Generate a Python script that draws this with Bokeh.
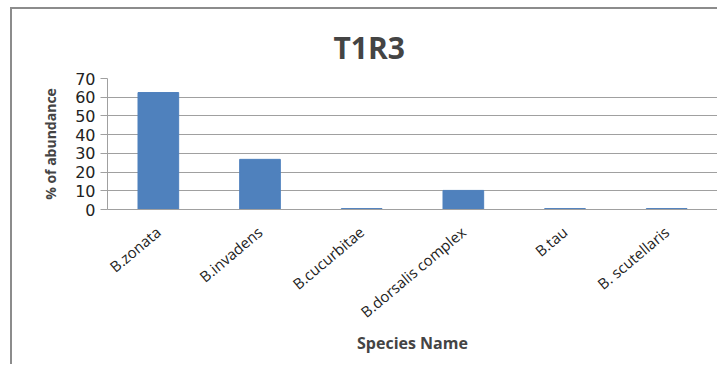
from bokeh.plotting import figure
from bokeh.models import ColumnDataSource, FactorRange, Range1d, FixedTicker
from bokeh.embed import file_html
from bokeh.resources import INLINE
import math

title_text = "T1R3"
species = ["B.zonata", "B.invadens", "B.cucurbitae", "B.dorsalis complex", "B.tau", "B. scutellaris"]
abundance = [62.5, 26.8, 0.5, 10.2, 0.5, 0.5]
y_ticks = [0, 10, 20, 30, 40, 50, 60, 70]

src = ColumnDataSource(dict(x=species, top=abundance))

p = figure(x_range=FactorRange(*species, range_padding=0), y_range=Range1d(0, 70),
           width=705, height=355, output_backend="svg", toolbar_location=None,
           min_border_left=95, min_border_right=2, min_border_top=69, min_border_bottom=157)
p.styles = {"border-top": "2px solid #8c8c8c", "border-left": "2px solid #8c8c8c",
            "margin-left": "10px", "margin-top": "7px", "box-sizing": "content-box"}

p.vbar(x="x", top="top", width=0.4, source=src, fill_color="#4f81bd", line_color="#4f81bd")

p.title.text = title_text
p.title.align = "left"
p.title.text_font = "Open Sans"
p.title.text_font_size = "30px"
p.title.text_font_style = "bold"
p.title.offset = 226
p.title.standoff = 22

p.outline_line_color = None
p.xgrid.grid_line_color = None
p.ygrid.grid_line_color = "#a0a0a0"
p.ygrid.grid_line_width = 1

p.yaxis.ticker = FixedTicker(ticks=y_ticks)
p.yaxis.axis_line_color = "#a0a0a0"
p.yaxis.major_tick_line_color = "#a0a0a0"
p.yaxis.major_tick_out = 7
p.yaxis.major_tick_in = 0
p.yaxis.minor_tick_line_color = None
p.yaxis.major_label_text_font = "DejaVu Sans"
p.yaxis.major_label_text_font_size = "16px"
p.yaxis.major_label_text_color = "#222222"
p.yaxis.major_label_standoff = 5
p.yaxis.axis_label = "% of abundance"
p.yaxis.axis_label_text_font = "Open Sans"
p.yaxis.axis_label_text_font_style = "bold"
p.yaxis.axis_label_text_font_size = "14px"
p.yaxis.axis_label_standoff = 12

p.xaxis.axis_line_color = "#a0a0a0"
p.xaxis.major_tick_line_color = None
p.xaxis.minor_tick_line_color = None
p.xaxis.major_label_orientation = math.radians(40)
p.xaxis.major_label_text_font = "Open Sans"
p.xaxis.major_label_text_font_size = "15px"
p.xaxis.major_label_text_color = "#222222"
p.xaxis.major_label_standoff = 14
p.xaxis.axis_label = "Species Name"
p.xaxis.axis_label_text_font = "Open Sans"
p.xaxis.axis_label_text_font_style = "bold"
p.xaxis.axis_label_text_font_size = "16px"
p.xaxis.axis_label_standoff = 0

open("out.html", "w").write(file_html(p, INLINE))
